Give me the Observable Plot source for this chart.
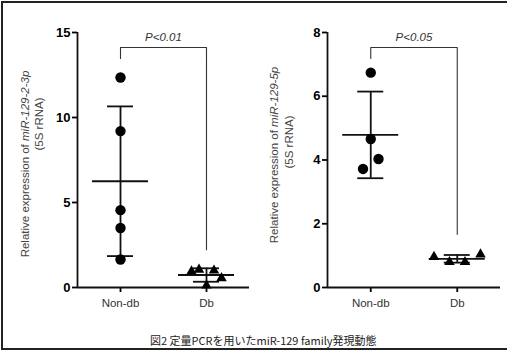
<!DOCTYPE html>
<html><head><meta charset="utf-8">
<script src="https://cdn.jsdelivr.net/npm/d3@7"></script>
<script src="https://cdn.jsdelivr.net/npm/@observablehq/plot@0.6"></script>
<style>
body{margin:0;background:#fff;}
#wrap{position:relative;width:507px;height:351px;overflow:hidden;font-family:"Liberation Sans",Arial,sans-serif;background:#fff;}
#frame{position:absolute;left:1px;top:1px;width:700px;height:349px;border:2px solid #222;box-sizing:border-box;}
.panel{position:absolute;top:0;}
#caption{position:absolute;left:150px;top:333px;font-family:"Noto Sans CJK JP",sans-serif;font-size:11px;line-height:14px;color:#222;white-space:nowrap;}
</style></head>
<body>
<div id="wrap">
  <div id="frame"></div>
  <div class="panel" id="p1" style="left:0px"></div>
  <div class="panel" id="p2" style="left:250px"></div>
  <div id="caption"></div>
</div>
<script>
const categories = ["Non-db", "Db"];
const nonDb_2_3p = [12.35, 9.2, 4.55, 3.5, 1.65];
const db_2_3p = [0.95, 1.05, 0.12, 1.0, 0.55];
const nonDb_5p = [6.74, 4.66, 3.72, 4.03];
const db_5p = [0.96, 0.8, 0.8, 1.04];
const yTicks_2_3p = [0, 5, 10, 15];
const yTicks_5p = [0, 2, 4, 6, 8];
const pLabels = ["P<0.01", "P<0.05"];
const yTitleMain = ["Relative expression of ", "Relative expression of "];
const yTitleGene = ["miR-129-2-3p", "miR-129-5p"];
const yTitleSub = "(5S rRNA)";
const captionText = "図2 定量PCRを用いたmiR-129 family発現動態";

function panel(cfg) {
  const W = cfg.width, H = 320, ml = 77, mr = cfg.mr, mt = 32, mb = 33;
  const innerH = H - mt - mb, innerW = W - ml - mr;
  const k = cfg.ymax / innerH;
  const ppu = innerW / 2;
  const groups = [cfg.nonDb, cfg.db];
  const pts = [[], []], stats = [];
  groups.forEach((vals, gi) => {
    const idx = vals.map((v, i) => i).sort((a, b) => vals[a] - vals[b]);
    const clusters = []; let cur = [idx[0]];
    for (let j = 1; j < idx.length; j++) {
      if ((vals[idx[j]] - vals[idx[j - 1]]) / k < 11) cur.push(idx[j]);
      else { clusters.push(cur); cur = [idx[j]]; }
    }
    clusters.push(cur);
    const off = new Array(vals.length).fill(0);
    for (const c of clusters) {
      const ord = c.slice().sort((a, b) => a - b);
      ord.forEach((i, j) => off[i] = (j - (ord.length - 1) / 2) * cfg.spread);
    }
    vals.forEach((v, i) => pts[gi].push({gi, v, x: gi + off[i] / ppu}));
    const m = d3.mean(vals), s = d3.deviation(vals);
    stats.push({gi, m, lo: m - s, hi: m + s});
  });
  const top = cfg.ymax - 15 * k;
  const bracket = [
    {x: 0, y: top - 11 * k},
    {x: 0, y: top},
    {x: 1, y: top},
    {x: 1, y: d3.max(cfg.db) + 20 * k}
  ];
  const meanHalf = 28 / ppu, capHalf = 13 / ppu;
  const sw = 1.8;
  const chart = Plot.plot({
    width: W, height: H,
    marginLeft: ml, marginRight: mr, marginTop: mt, marginBottom: mb,
    style: {fontFamily: "'Liberation Sans', Arial, sans-serif", background: "transparent"},
    x: {domain: [-0.5, 1.5]},
    y: {domain: [0, cfg.ymax]},
    marks: [
      Plot.axisY({ticks: cfg.yticks, tickSize: 5, tickPadding: 2, label: null, strokeWidth: sw, fontSize: 13, fontWeight: "bold", tickFormat: d => String(d)}),
      Plot.axisX({ticks: [0, 1], tickSize: 5, tickPadding: 6, label: null, strokeWidth: sw, fontSize: 11.5, tickFormat: i => categories[i]}),
      Plot.ruleX([-0.5], {stroke: "#111", strokeWidth: sw}),
      Plot.ruleY([0], {stroke: "#111", strokeWidth: sw}),
      Plot.ruleX(stats, {x: "gi", y1: "lo", y2: "hi", stroke: "#111", strokeWidth: sw}),
      Plot.ruleY(stats, {y: "m", x1: d => d.gi - meanHalf, x2: d => d.gi + meanHalf, stroke: "#111", strokeWidth: sw}),
      Plot.ruleY(stats, {y: "lo", x1: d => d.gi - capHalf, x2: d => d.gi + capHalf, stroke: "#111", strokeWidth: sw}),
      Plot.ruleY(stats, {y: "hi", x1: d => d.gi - capHalf, x2: d => d.gi + capHalf, stroke: "#111", strokeWidth: sw}),
      Plot.dot(pts[0], {x: "x", y: "v", r: 5.2, symbol: "circle", fill: "#000", stroke: "none"}),
      Plot.dot(pts[1], {x: "x", y: "v", r: 3.9, symbol: "triangle", fill: "#000", stroke: "none"}),
      Plot.line(bracket, {x: "x", y: "y", stroke: "#333", strokeWidth: 1.1}),
      Plot.text([cfg.p], {x: 0.5, y: cfg.ymax - 5 * k, text: d => d, fontSize: 11.5, fontStyle: "italic", fill: "#333"})
    ]
  });
  const svg = d3.select(chart);
  svg.selectAll('[aria-label="x-axis tick label"] text').attr("fill", "#333");
  svg.selectAll('[aria-label="y-axis tick label"] text').attr("fill", "#000");
  const t1 = svg.append("text")
    .attr("transform", `translate(${cfg.tx1},${cfg.ty1}) rotate(-90)`)
    .attr("text-anchor", "middle").attr("dominant-baseline", "middle")
    .attr("font-size", 11.5).attr("fill", "#444");
  t1.append("tspan").text(cfg.title);
  t1.append("tspan").attr("font-style", "italic").text(cfg.gene);
  svg.append("text")
    .attr("transform", `translate(${cfg.tx2},${cfg.ty2}) rotate(-90)`)
    .attr("text-anchor", "middle").attr("dominant-baseline", "middle")
    .attr("font-size", 11.5).attr("fill", "#444")
    .text(yTitleSub);
  return chart;
}

document.getElementById("p1").appendChild(panel({
  width: 250, mr: 1, ymax: 15, yticks: yTicks_2_3p, nonDb: nonDb_2_3p, db: db_2_3p,
  spread: 7.5, p: pLabels[0], title: yTitleMain[0], gene: yTitleGene[0],
  tx1: 26, ty1: 164, tx2: 40, ty2: 124
}));
document.getElementById("p2").appendChild(panel({
  width: 257, mr: 7, ymax: 8, yticks: yTicks_5p, nonDb: nonDb_5p, db: db_5p,
  spread: 15.5, p: pLabels[1], title: yTitleMain[1], gene: yTitleGene[1],
  tx1: 25, ty1: 155, tx2: 40, ty2: 142
}));
document.getElementById("caption").textContent = captionText;
</script>
</body></html>
